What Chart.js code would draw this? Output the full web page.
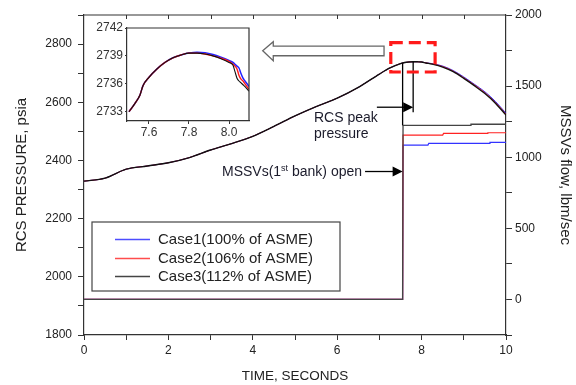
<!DOCTYPE html>
<html>
<head>
<meta charset="utf-8">
<script src="https://cdn.jsdelivr.net/npm/chart.js@4.4.1/dist/chart.umd.min.js"></script>
<style>
  html, body { margin: 0; padding: 0; background: #fff; overflow: hidden; }
  #wrap { position: relative; width: 576px; height: 385px; }
  #main { position: absolute; left: 0; top: 0; }
  #inset { position: absolute; left: 90px; top: 18px; }
</style>
</head>
<body>
<div id="wrap">
  <canvas id="main" width="576" height="385"></canvas>
  <canvas id="inset" width="165" height="125"></canvas>
</div>
<script>
// ---------------- DATA ----------------
const caseLabels = ['Case1(100% of ASME)', 'Case2(106% of ASME)', 'Case3(112% of ASME)'];

// RCS pressure (psia) vs time (s)
const time = [0, 0.5, 1, 1.5, 2, 2.5, 3, 3.5, 4, 4.5, 5, 5.5, 6, 6.5, 7, 7.25, 7.5, 7.6, 7.7, 7.8, 7.9, 8.0, 8.1, 8.25, 8.5, 8.75, 9, 9.25, 9.5, 9.75, 10];
const pressureCase1 = [2329, 2339, 2370, 2381, 2392, 2410, 2436, 2458, 2483, 2517, 2553, 2585, 2614, 2651, 2697, 2718, 2733, 2736.6, 2738.5, 2739.3, 2739.3, 2738.5, 2735.7, 2733, 2724.5, 2709, 2687, 2662, 2636, 2603, 2562];
const pressureCase2 = [2329, 2339, 2370, 2381, 2392, 2410, 2436, 2458, 2483, 2517, 2553, 2585, 2614, 2651, 2697, 2718, 2733, 2736.6, 2738.5, 2739.3, 2739.2, 2738.4, 2735.4, 2732, 2723, 2707, 2684.5, 2660, 2633, 2600, 2559];
const pressureCase3 = [2329, 2339, 2370, 2381, 2392, 2410, 2436, 2458, 2483, 2517, 2553, 2585, 2614, 2651, 2697, 2718, 2733, 2736.6, 2738.5, 2739.3, 2739.1, 2738.3, 2735.2, 2731, 2721, 2705, 2682, 2657, 2630, 2597, 2556];

// MSSV flow (lbm/sec) vs time (s)
const flowTime1 = [0, 7.55, 7.56, 8.15, 8.17, 9.6, 9.62, 10];
const flowCase1 = [0, 0, 1085, 1085, 1097, 1097, 1104, 1104];
const flowTime2 = [0, 7.55, 7.56, 8.5, 8.52, 9.55, 9.57, 10];
const flowCase2 = [0, 0, 1156, 1156, 1167, 1167, 1172, 1172];
const flowTime3 = [0, 7.55, 7.56, 9.15, 9.17, 10];
const flowCase3 = [0, 0, 1224, 1224, 1232, 1232];

// Inset (zoom near peak)
const insetTime  = [7.50, 7.53, 7.555, 7.57, 7.60, 7.64, 7.68, 7.72, 7.76, 7.80, 7.84, 7.88, 7.92, 7.96, 8.00, 8.02, 8.03, 8.04, 8.05, 8.06, 8.07, 8.08, 8.10];
const insetCase1 = [2733.0, 2733.9, 2734.8, 2735.8, 2736.7, 2737.6, 2738.3, 2738.8, 2739.1, 2739.3, 2739.4, 2739.35, 2739.15, 2738.85, 2738.5, 2738.3, 2738.1, 2737.9, 2737.7, 2737.1, 2736.6, 2736.3, 2735.7];
const insetCase2 = [2733.0, 2733.9, 2734.8, 2735.8, 2736.7, 2737.6, 2738.3, 2738.8, 2739.1, 2739.3, 2739.3, 2739.2, 2739.0, 2738.75, 2738.4, 2738.1, 2737.9, 2737.6, 2736.9, 2736.5, 2736.3, 2736.0, 2735.4];
const insetCase3 = [2733.0, 2733.9, 2734.8, 2735.8, 2736.7, 2737.6, 2738.3, 2738.8, 2739.1, 2739.3, 2739.3, 2739.2, 2739.0, 2738.7, 2738.3, 2738.0, 2737.3, 2736.6, 2736.3, 2736.1, 2735.9, 2735.7, 2735.2];

// Events
const mssvOpenTime = 7.55;
const peakTime = 7.8;
const peakPressure = 2739;

// ---------------- HELPERS ----------------
const pts = (xs, ys) => xs.map((v, i) => ({ x: v, y: ys[i] }));
const FONT = "'Liberation Sans', Arial, sans-serif";
Chart.defaults.font.family = FONT;
Chart.defaults.color = '#222';

const BLUE = '#1a1aff', RED = '#ff1a1a', BLACK = '#111';

function arrowHead(ctx, tipX, tipY, len, half) {
  ctx.beginPath();
  ctx.moveTo(tipX, tipY);
  ctx.lineTo(tipX - len, tipY - half);
  ctx.lineTo(tipX - len, tipY + half);
  ctx.closePath();
  ctx.fill();
}

const annotations = {
  id: 'annotations',
  afterDatasetsDraw(chart) {
    const { ctx, chartArea: a, scales } = chart;
    const x = scales.x, y = scales.y, y2 = scales.y2;
    ctx.save();

    // top frame with inward ticks
    ctx.strokeStyle = '#333';
    ctx.lineWidth = 1.2;
    ctx.beginPath(); ctx.moveTo(a.left, a.top); ctx.lineTo(a.right, a.top); ctx.stroke();
    ctx.lineWidth = 1;
    for (let t = 1; t < 10; t++) {
      const px = Math.round(x.getPixelForValue(t)) + 0.5;
      ctx.beginPath(); ctx.moveTo(px, a.top); ctx.lineTo(px, a.top + 4); ctx.stroke();
    }

    // MSSV open vertical line (flow jump up to pressure curve)
    ctx.strokeStyle = '#000';
    ctx.lineWidth = 1.3;
    const xo = x.getPixelForValue(mssvOpenTime);
    ctx.beginPath();
    ctx.moveTo(xo, y2.getPixelForValue(1224));
    ctx.lineTo(xo, y.getPixelForValue(2734.5));
    ctx.stroke();

    // peak vertical line
    const xp = x.getPixelForValue(peakTime);
    ctx.beginPath();
    ctx.moveTo(xp, y.getPixelForValue(peakPressure));
    ctx.lineTo(xp, y.getPixelForValue(2566));
    ctx.stroke();

    // RCS peak arrow
    ctx.fillStyle = '#000';
    const ya = y.getPixelForValue(2583);
    ctx.beginPath(); ctx.moveTo(x.getPixelForValue(6.94), ya); ctx.lineTo(xp - 8, ya); ctx.stroke();
    arrowHead(ctx, xp, ya, 10, 5);

    // MSSV arrow
    const ym = y.getPixelForValue(2362);
    ctx.beginPath(); ctx.moveTo(x.getPixelForValue(6.66), ym); ctx.lineTo(xo - 8, ym); ctx.stroke();
    arrowHead(ctx, xo, ym, 10, 5);

    // Text annotations
    ctx.fillStyle = '#1b1b2b';
    ctx.textBaseline = 'middle';
    ctx.textAlign = 'left';
    ctx.font = '14px ' + FONT;
    ctx.fillText('RCS peak', x.getPixelForValue(5.45), y.getPixelForValue(2547));
    ctx.fillText('pressure', x.getPixelForValue(5.45), y.getPixelForValue(2492));

    let tx = x.getPixelForValue(3.27);
    const ty = y.getPixelForValue(2359);
    const p1 = 'MSSVs(1';
    ctx.fillText(p1, tx, ty);
    tx += ctx.measureText(p1).width;
    ctx.font = '9px ' + FONT;
    ctx.fillText('st', tx, ty - 4);
    tx += ctx.measureText('st').width;
    ctx.font = '14px ' + FONT;
    ctx.fillText(' bank) open', tx, ty);

    // red dashed box around peak
    ctx.strokeStyle = '#ff1a1a';
    ctx.lineWidth = 3.2;
    ctx.setLineDash([12, 6]);
    const bx1 = x.getPixelForValue(7.27), bx2 = x.getPixelForValue(8.32);
    const by1 = y.getPixelForValue(2805), by2 = y.getPixelForValue(2704);
    ctx.strokeRect(bx1, by1, bx2 - bx1, by2 - by1);
    ctx.setLineDash([]);

    // hollow arrow pointing to inset
    const tipX = x.getPixelForValue(4.235), tipY = y.getPixelForValue(2777);
    const hb = x.getPixelForValue(4.485), tail = x.getPixelForValue(7.11);
    const sTop = y.getPixelForValue(2793), sBot = y.getPixelForValue(2760);
    const hTop = y.getPixelForValue(2808), hBot = y.getPixelForValue(2743);
    ctx.beginPath();
    ctx.moveTo(tipX, tipY);
    ctx.lineTo(hb, hTop);
    ctx.lineTo(hb, sTop);
    ctx.lineTo(tail, sTop);
    ctx.lineTo(tail, sBot);
    ctx.lineTo(hb, sBot);
    ctx.lineTo(hb, hBot);
    ctx.closePath();
    ctx.fillStyle = '#fff';
    ctx.fill();
    ctx.strokeStyle = '#666';
    ctx.lineWidth = 1.3;
    ctx.stroke();

    // legend
    const lg = { left: 92, top: 222, right: 340, bottom: 291 };
    ctx.fillStyle = '#fff';
    ctx.fillRect(lg.left, lg.top, lg.right - lg.left, lg.bottom - lg.top);
    ctx.strokeStyle = '#444';
    ctx.lineWidth = 1.2;
    ctx.strokeRect(lg.left, lg.top, lg.right - lg.left, lg.bottom - lg.top);
    ctx.font = '15px ' + FONT;
    ctx.textBaseline = 'middle';
    const rows = [239, 258, 276];
    for (let i = 0; i < 3; i++) {
      const ds = chart.data.datasets[i];
      ctx.strokeStyle = ds.legendColor;
      ctx.lineWidth = 1.3;
      ctx.beginPath(); ctx.moveTo(115, rows[i] + 0.5); ctx.lineTo(150, rows[i] + 0.5); ctx.stroke();
      ctx.fillStyle = '#222';
      ctx.fillText(ds.label, 158, rows[i] + 1);
    }
    ctx.restore();
  }
};

const gridOpts = (len) => ({ display: true, drawOnChartArea: false, drawTicks: true, tickLength: len, color: '#333', lineWidth: 1 });
const borderOpts = { display: true, color: '#333', width: 1.2 };

new Chart(document.getElementById('main'), {
  type: 'line',
  data: {
    datasets: [
      { label: caseLabels[0], legendColor: '#4d4dff', data: pts(time, pressureCase1), yAxisID: 'y', order: 5, borderColor: BLUE, borderWidth: 0.9, pointRadius: 0, cubicInterpolationMode: 'monotone' },
      { label: caseLabels[1], legendColor: '#ff4d4d', data: pts(time, pressureCase2), yAxisID: 'y', order: 4, borderColor: RED, borderWidth: 0.9, pointRadius: 0, cubicInterpolationMode: 'monotone' },
      { label: caseLabels[2], legendColor: '#444', data: pts(time, pressureCase3), yAxisID: 'y', order: 3, borderColor: BLACK, borderWidth: 1.4, pointRadius: 0, cubicInterpolationMode: 'monotone' },
      { label: caseLabels[0] + ' flow', data: pts(flowTime1, flowCase1), yAxisID: 'y2', order: 2, borderColor: '#3333ff', borderWidth: 1.2, pointRadius: 0, tension: 0 },
      { label: caseLabels[1] + ' flow', data: pts(flowTime2, flowCase2), yAxisID: 'y2', order: 1, borderColor: '#ff2222', borderWidth: 1.2, pointRadius: 0, tension: 0 },
      { label: caseLabels[2] + ' flow', data: pts(flowTime3, flowCase3), yAxisID: 'y2', order: 0, borderColor: '#444', borderWidth: 1.3, pointRadius: 0, tension: 0 }
    ]
  },
  options: {
    responsive: false,
    animation: false,
    devicePixelRatio: 1,
    layout: { padding: { top: 15, left: 0, right: 0, bottom: 0 } },
    plugins: { legend: { display: false }, tooltip: { enabled: false } },
    scales: {
      x: {
        type: 'linear', min: 0, max: 10,
        ticks: { stepSize: 1, autoSkip: false, maxRotation: 0, padding: 3, font: { size: 12 }, color: '#222',
                 callback: v => (v % 2 === 0 ? String(v) : '') },
        grid: gridOpts(5), border: borderOpts,
        title: { display: true, text: 'TIME, SECONDS', font: { size: 13.5 }, color: '#222', padding: { top: 0, bottom: 1 } },
        afterFit: s => { s.height = 50; }
      },
      y: {
        type: 'linear', position: 'left', min: 1800, max: 2900,
        ticks: { stepSize: 100, autoSkip: false, padding: 6, font: { size: 12 }, color: '#222',
                 callback: v => (v % 200 === 0 ? String(v) : '') },
        grid: gridOpts(6), border: borderOpts,
        title: { display: true, text: 'RCS PRESSURE, psia', font: { size: 15 }, color: '#222', padding: { top: 13, bottom: 0 } },
        afterFit: s => { s.width = 84; }
      },
      y2: {
        type: 'linear', position: 'right', min: -250, max: 2000,
        ticks: { stepSize: 250, autoSkip: false, padding: 3, font: { size: 12 }, color: '#222',
                 callback: v => (v % 500 === 0 ? String(v) : '') },
        grid: gridOpts(6), border: borderOpts,
        title: { display: true, text: 'MSSVs flow, lbm/sec', font: { size: 15 }, color: '#222', padding: { top: 2, bottom: 0 } },
        afterFit: s => { s.width = 70; }
      }
    }
  },
  plugins: [annotations]
});

// ---------------- INSET ----------------
const insetFrame = {
  id: 'insetFrame',
  afterDraw(chart) {
    const { ctx, chartArea: a } = chart;
    ctx.save();
    ctx.strokeStyle = '#333';
    ctx.lineWidth = 1.2;
    ctx.beginPath();
    ctx.moveTo(a.left, a.top); ctx.lineTo(a.right, a.top); ctx.lineTo(a.right, a.bottom);
    ctx.stroke();
    ctx.restore();
  }
};

new Chart(document.getElementById('inset'), {
  type: 'line',
  data: {
    datasets: [
      { data: pts(insetTime, insetCase1), order: 2, borderColor: '#2222ff', borderWidth: 1.5, pointRadius: 0, cubicInterpolationMode: 'monotone' },
      { data: pts(insetTime, insetCase2), order: 1, borderColor: '#ff1a1a', borderWidth: 1.4, pointRadius: 0, cubicInterpolationMode: 'monotone' },
      { data: pts(insetTime, insetCase3), order: 0, borderColor: '#111', borderWidth: 1.1, pointRadius: 0, cubicInterpolationMode: 'monotone' }
    ]
  },
  options: {
    responsive: false,
    animation: false,
    devicePixelRatio: 1,
    layout: { padding: { top: 10, right: 6, left: 0, bottom: 0 } },
    plugins: { legend: { display: false }, tooltip: { enabled: false } },
    scales: {
      x: {
        type: 'linear', min: 7.49, max: 8.1,
        ticks: { stepSize: 0.2, includeBounds: false, autoSkip: false, maxRotation: 0, padding: 1, font: { size: 12 }, color: '#333',
                 callback: v => Number(v).toFixed(1) },
        grid: { display: true, drawOnChartArea: false, tickLength: 3, color: '#333' },
        border: { display: true, color: '#333', width: 1.2 },
        afterFit: s => { s.height = 22; }
      },
      y: {
        type: 'linear', min: 2732, max: 2742,
        ticks: { stepSize: 3, includeBounds: false, autoSkip: false, padding: 2, font: { size: 12 }, color: '#333',
                 callback: v => String(Math.round(v)) },
        grid: { display: true, drawOnChartArea: false, tickLength: 2, color: '#333' },
        border: { display: true, color: '#333', width: 1.2 },
        afterFit: s => { s.width = 37; }
      }
    }
  },
  plugins: [insetFrame]
});
</script>
</body>
</html>
